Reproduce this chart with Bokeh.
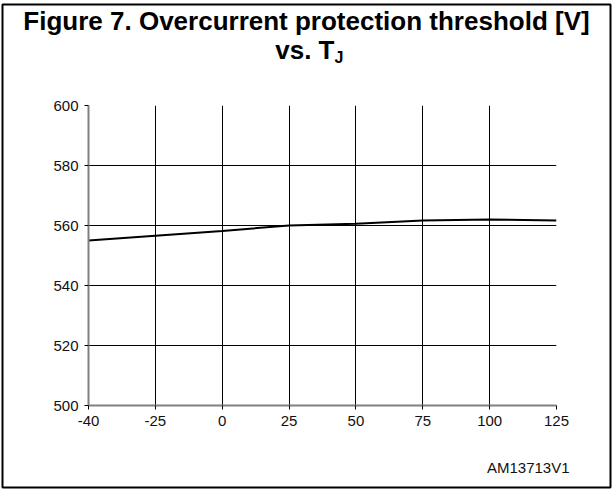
from bokeh.plotting import figure
from bokeh.models import Range1d, FixedTicker
from bokeh.core.properties import value
from bokeh.embed import file_html
from bokeh.resources import INLINE

# Data
temps = ["-40", "-25", "0", "25", "50", "75", "100", "125"]
threshold = [555.0, 556.6, 558.2, 560.0, 560.6, 561.7, 562.0, 561.7]
y_ticks = [500, 520, 540, 560, 580, 600]
title_line1 = "Figure 7. Overcurrent protection threshold [V]"
title_line2 = "vs. T"
title_sub = "J"
code_label = "AM13713V1"

W, H = 612, 489
L, R, T, B = 88, 556, 105, 405
XMAX = len(temps) - 1
YMIN, YMAX = 500, 600
ABS = {"position": "absolute", "left": "0px", "top": "0px"}

# Background figure: pixel-space canvas for title, footer and outer frame
bg = figure(width=W, height=H, output_backend="svg", toolbar_location=None,
            x_range=Range1d(0, W), y_range=Range1d(H, 0),
            x_axis_type=None, y_axis_type=None, min_border=0, styles=dict(ABS))
bg.outline_line_color = None
bg.background_fill_color = "white"
bg.border_fill_color = "white"

font = value("Liberation Sans")
bg.text(x=[306], y=[20], text=[title_line1], text_align="center",
        text_baseline="alphabetic", text_font=font, text_font_style="bold",
        text_font_size="26px", text_color="black")
bg.text(x=[334], y=[49], text=[title_line2], text_align="right",
        text_baseline="alphabetic", text_font=font, text_font_style="bold",
        text_font_size="26px", text_color="black")
bg.text(x=[334], y=[57], text=[title_sub], text_align="left",
        text_baseline="alphabetic", text_font=font, text_font_style="bold",
        text_font_size="16px", text_color="black")
bg.text(x=[569], y=[467], text=[code_label], text_align="right",
        text_baseline="alphabetic", text_font=font,
        text_font_size="15px", text_color="#111111")
bg.quad(left=[2], right=[610], top=[4], bottom=[487], fill_color=None,
        line_color="black", line_width=2)

# Chart figure, transparent, overlaid
p = figure(width=W, height=H, output_backend="svg", toolbar_location=None,
           x_range=Range1d(0, XMAX), y_range=Range1d(YMIN, YMAX),
           min_border_left=L, min_border_right=W - R,
           min_border_top=T, min_border_bottom=H - B, styles=dict(ABS))
p.outline_line_color = None
p.background_fill_alpha = 0
p.border_fill_alpha = 0

xs = list(range(len(temps)))
p.xaxis.ticker = FixedTicker(ticks=xs)
p.xaxis.major_label_overrides = {i: t for i, t in enumerate(temps)}
p.yaxis.ticker = FixedTicker(ticks=y_ticks)

for ax in (p.xaxis, p.yaxis):
    ax.axis_line_color = "#808080"
    ax.axis_line_width = 2
    ax.major_tick_line_color = "black"
    ax.major_tick_out = 4
    ax.major_tick_in = 0
    ax.minor_tick_line_color = None
    ax.major_label_text_font = "Liberation Sans"
    ax.major_label_text_font_size = "15px"
    ax.major_label_text_color = "#111111"
    ax.major_label_standoff = 6

p.xgrid.grid_line_color = "black"
p.ygrid.grid_line_color = "black"
p.xgrid.grid_line_width = 1
p.ygrid.grid_line_width = 1

p.line(xs, threshold, line_color="black", line_width=2)

open("out.html", "w").write(file_html([bg, p], INLINE))
